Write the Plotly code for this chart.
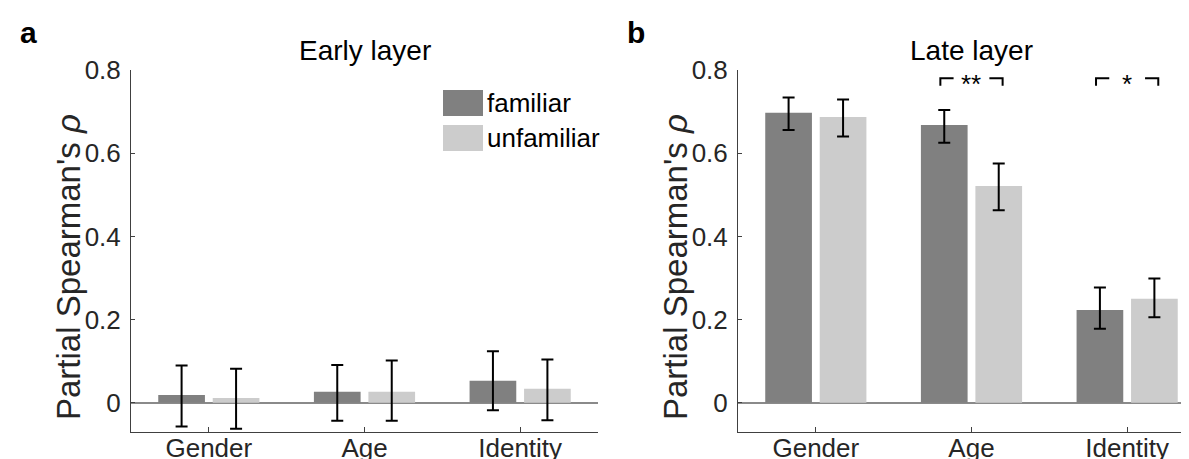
import plotly.graph_objects as go
from plotly.subplots import make_subplots

# ---------------- data ----------------
categories = ["Gender", "Age", "Identity"]
cat_pos = [1, 2, 3]
series_names = ["familiar", "unfamiliar"]
series_colors = ["#808080", "#cccccc"]

early_familiar = [0.019, 0.027, 0.053]
early_familiar_hi = [0.090, 0.091, 0.124]
early_familiar_lo = [-0.057, -0.043, -0.018]
early_unfamiliar = [0.012, 0.027, 0.034]
early_unfamiliar_hi = [0.082, 0.102, 0.104]
early_unfamiliar_lo = [-0.062, -0.043, -0.042]

late_familiar = [0.697, 0.668, 0.223]
late_familiar_hi = [0.734, 0.704, 0.277]
late_familiar_lo = [0.656, 0.625, 0.178]
late_unfamiliar = [0.687, 0.521, 0.250]
late_unfamiliar_hi = [0.729, 0.575, 0.299]
late_unfamiliar_lo = [0.640, 0.463, 0.206]

panel_titles = ["Early layer", "Late layer"]
panel_letters = ["a", "b"]
y_title = "Partial Spearman's <i>ρ</i>"
y_tickvals = [0, 0.2, 0.4, 0.6, 0.8]
y_ticktext = ["0", "0.2", "0.4", "0.6", "0.8"]

# significance (late layer)
sig_categories = [2, 3]
sig_labels = ["**", "*"]
sig_level = 0.78

# ---------------- styling ----------------
FONT = "Liberation Sans, Arial, Helvetica, sans-serif"
W, H = 1189, 459
AX_COLOR = "#404040"
BAR_OFFSET = 0.2       # bar centre distance from category centre
SEG_LEN = 0.085        # bracket horizontal segment length (x units)
DROP = 0.018           # bracket end drop (y units)

fig = make_subplots(rows=1, cols=2)

panels = [
    (early_familiar, early_familiar_hi, early_familiar_lo,
     early_unfamiliar, early_unfamiliar_hi, early_unfamiliar_lo),
    (late_familiar, late_familiar_hi, late_familiar_lo,
     late_unfamiliar, late_unfamiliar_hi, late_unfamiliar_lo),
]

for col, (fv, fh, fl, uv, uh, ul) in enumerate(panels, start=1):
    for name, color, vals, hi, lo in [
        (series_names[0], series_colors[0], fv, fh, fl),
        (series_names[1], series_colors[1], uv, uh, ul),
    ]:
        fig.add_trace(
            go.Bar(
                x=cat_pos, y=vals, name=name, marker_color=color,
                marker_line_width=0, showlegend=False,
                offsetgroup=name,
                error_y=dict(
                    type="data", symmetric=False,
                    array=[h - v for h, v in zip(hi, vals)],
                    arrayminus=[v - l for l, v in zip(lo, vals)],
                    color="black", thickness=2, width=6,
                ),
            ),
            row=1, col=col,
        )

# significance brackets in late-layer panel
for c, lab in zip(sig_categories, sig_labels):
    xl = c - BAR_OFFSET
    xr = c + BAR_OFFSET
    fig.add_trace(
        go.Scatter(
            x=[xl, xl, xl + SEG_LEN, None, xr - SEG_LEN, xr, xr],
            y=[sig_level - DROP, sig_level, sig_level, None,
               sig_level, sig_level, sig_level - DROP],
            mode="lines", line=dict(color="black", width=2),
            showlegend=False, hoverinfo="skip",
        ),
        row=1, col=2,
    )
    fig.add_annotation(
        x=c, y=sig_level, xref="x2", yref="y2", text=lab,
        showarrow=False, font=dict(family=FONT, size=26, color="black"),
        yanchor="middle", yshift=-6,
    )

left_px = (123, 590)
right_px = (730, 1189)
top_px, bot_px = 62, 424

xaxis_common = dict(
    tickvals=cat_pos, ticktext=categories,
    ticks="inside", ticklen=5, tickcolor=AX_COLOR, tickwidth=1,
    showline=True, linecolor=AX_COLOR, linewidth=1,
    showgrid=False, zeroline=False, automargin=False,
    tickfont=dict(family=FONT, size=26, color="#262626"),
    ticklabelstandoff=-7,
)
yaxis_common = dict(
    range=[-0.07, 0.8], tickvals=y_tickvals, ticktext=y_ticktext,
    ticks="inside", ticklen=4, tickcolor=AX_COLOR, tickwidth=1,
    showline=True, linecolor=AX_COLOR, linewidth=1,
    showgrid=False, zeroline=True, zerolinecolor="#8a8a8a", zerolinewidth=1.5,
    tickfont=dict(family=FONT, size=26, color="#262626"),
    domain=[1 - bot_px / H, 1 - top_px / H], automargin=False,
    ticklabelstandoff=4,
)

fig.update_layout(
    template="none",
    xaxis=dict(xaxis_common, domain=[left_px[0] / W, left_px[1] / W], range=[0.5, 3.5]),
    xaxis2=dict(xaxis_common, domain=[right_px[0] / W, right_px[1] / W],
                range=[0.5, 3 + (right_px[1] - 1119) / 156.0]),
    yaxis=dict(yaxis_common),
    yaxis2=dict(yaxis_common),
    barmode="group", bargap=0.3, bargroupgap=0.143,
    width=W, height=H,
    margin=dict(l=0, r=0, t=0, b=0, pad=0),
    paper_bgcolor="white", plot_bgcolor="white",
    font=dict(family=FONT, color="#262626"),
    showlegend=False,
)

# titles, panel letters, y titles
title_centers = [(left_px[0] + left_px[1]) / 2, 963]
for i, px in enumerate([left_px, right_px]):
    fig.add_annotation(
        text=panel_titles[i], xref="paper", x=title_centers[i] / W, xanchor="center",
        yref="paper", y=1 - 42 / H, yanchor="middle", showarrow=False,
        font=dict(family=FONT, size=28, color="black"),
    )
    fig.add_annotation(
        text=f"<b>{panel_letters[i]}</b>", xref="paper",
        x=(10 if i == 0 else 617) / W, xanchor="left",
        yref="paper", y=1 - 24 / H, yanchor="middle", showarrow=False,
        font=dict(family=FONT, size=30, color="black"),
    )
    fig.add_annotation(
        text=y_title, textangle=-90, xref="paper",
        x=(px[0] - 63) / W, xanchor="center",
        yref="paper", y=1 - 259 / H, yanchor="middle", showarrow=False,
        font=dict(family=FONT, size=33, color="#262626"),
    )

# custom legend (left panel)
leg_items = [(series_names[0], series_colors[0], 82, 108),
             (series_names[1], series_colors[1], 117, 143)]
lw = left_px[1] - left_px[0]
lh = bot_px - top_px
for name, color, y0p, y1p in leg_items:
    fig.add_shape(
        type="rect", xref="x domain", yref="y domain",
        x0=(435 - left_px[0]) / lw, x1=(475 - left_px[0]) / lw,
        y0=(bot_px - y1p) / lh, y1=(bot_px - y0p) / lh,
        fillcolor=color, line_width=0,
    )
    fig.add_annotation(
        text=name, xref="x domain", yref="y domain",
        x=(477 - left_px[0]) / lw, xanchor="left",
        y=(bot_px - (y0p + y1p) / 2) / lh, yanchor="middle",
        showarrow=False, font=dict(family=FONT, size=26, color="black"),
    )

fig.write_html("out.html")
